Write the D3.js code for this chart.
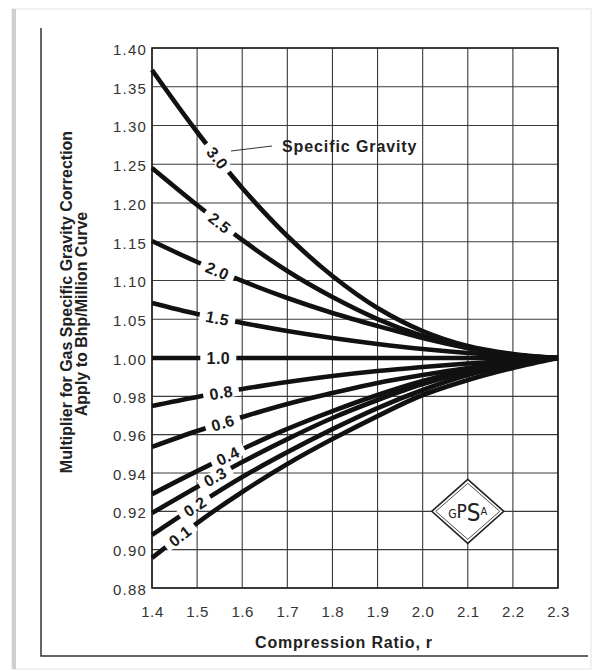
<!DOCTYPE html>
<html><head><meta charset="utf-8">
<script src="https://cdn.jsdelivr.net/npm/d3@7"></script>
<style>
body{margin:0;background:#fff}
svg{display:block;font-family:"Liberation Sans",Arial,Helvetica,sans-serif}
</style>
</head><body>
<svg id="c" width="594" height="671"></svg>
<script>
// ---- data ----
const ratios = [1.4, 1.5, 1.6, 1.7, 1.8, 1.9, 2.0, 2.1, 2.2, 2.3];
const xTickLabels = ["1.4","1.5","1.6","1.7","1.8","1.9","2.0","2.1","2.2","2.3"];
const yTicks = [0.88, 0.90, 0.92, 0.94, 0.96, 0.98, 1.00, 1.05, 1.10, 1.15, 1.20, 1.25, 1.30, 1.35, 1.40];
const sgNames = ["3.0","2.5","2.0","1.5","1.0","0.8","0.6","0.4","0.3","0.2","0.1"];
const sg30 = [1.3716, 1.2916, 1.2194, 1.1574, 1.1058, 1.0645, 1.0348, 1.0155, 1.0052, 1.0000];
const sg25 = [1.2452, 1.1974, 1.1523, 1.1123, 1.0787, 1.0503, 1.0284, 1.0129, 1.0039, 1.0000];
const sg20 = [1.1510, 1.1239, 1.0994, 1.0774, 1.0581, 1.0413, 1.0258, 1.0129, 1.0039, 1.0000];
const sg15 = [1.0710, 1.0568, 1.0452, 1.0348, 1.0258, 1.0181, 1.0116, 1.0065, 1.0026, 1.0000];
const sg10 = [1.0000, 1.0000, 1.0000, 1.0000, 1.0000, 1.0000, 1.0000, 1.0000, 1.0000, 1.0000];
const sg08 = [0.9750, 0.9797, 0.9838, 0.9875, 0.9906, 0.9932, 0.9953, 0.9971, 0.9987, 1.0000];
const sg06 = [0.9536, 0.9619, 0.9692, 0.9760, 0.9817, 0.9870, 0.9911, 0.9948, 0.9979, 1.0000];
const sg04 = [0.9290, 0.9410, 0.9525, 0.9630, 0.9723, 0.9807, 0.9880, 0.9937, 0.9979, 1.0000];
const sg03 = [0.9191, 0.9327, 0.9457, 0.9577, 0.9687, 0.9781, 0.9864, 0.9927, 0.9969, 1.0000];
const sg02 = [0.9077, 0.9233, 0.9379, 0.9509, 0.9629, 0.9739, 0.9833, 0.9911, 0.9963, 1.0000];
const sg01 = [0.8957, 0.9139, 0.9301, 0.9447, 0.9577, 0.9697, 0.9807, 0.9885, 0.9948, 1.0000];
const labelAt = [1.545, 1.550, 1.545, 1.545, 1.547, 1.553, 1.557, 1.568, 1.540, 1.495, 1.462];
const seriesValues = [sg30, sg25, sg20, sg15, sg10, sg08, sg06, sg04, sg03, sg02, sg01];

// ---- drawing ----
const svg = d3.select("#c");
const x = d3.scaleLinear().domain([1.4, 2.3]).range([152, 558]);
const y = d3.scaleLinear().domain([0.88, 1.00, 1.40]).range([588, 358, 48]);

// scanned page frame
svg.append("rect").attr("x", 12).attr("y", 9).attr("width", 579).attr("height", 660)
  .attr("fill", "#fff").attr("stroke", "#e2e2e2").attr("stroke-width", 1);
svg.append("rect").attr("x", 12).attr("y", 9).attr("width", 4).attr("height", 660)
  .attr("fill", "#cfcfcf");
// inner frame (left + bottom)
svg.append("path").attr("d", "M41,28V656H588").attr("fill", "none")
  .attr("stroke", "#333").attr("stroke-width", 1.5);

// grid
const g = svg.append("g");
g.selectAll("line.v").data(ratios).join("line")
  .attr("x1", d => x(d)).attr("x2", d => x(d))
  .attr("y1", y(1.40)).attr("y2", y(0.88))
  .attr("stroke", "#3a3a3a").attr("stroke-width", 1.1);
g.selectAll("line.h").data(yTicks).join("line")
  .attr("y1", d => y(d)).attr("y2", d => y(d))
  .attr("x1", x(1.4)).attr("x2", x(2.3))
  .attr("stroke", "#3a3a3a").attr("stroke-width", 1.1);
g.append("rect").attr("x", x(1.4)).attr("y", y(1.40))
  .attr("width", x(2.3) - x(1.4)).attr("height", y(0.88) - y(1.40))
  .attr("fill", "none").attr("stroke", "#222").attr("stroke-width", 1.6);

// axes
const ya = svg.append("g").attr("transform", `translate(${x(1.4)},1.5)`)
  .call(d3.axisLeft(y).tickValues(yTicks).tickFormat(d3.format(".2f")).tickSize(0).tickPadding(5));
ya.select(".domain").remove();
ya.selectAll("text").attr("font-size", 15).attr("fill", "#333")
  .attr("letter-spacing", "1.2px").attr("font-family", "Liberation Sans, Arial, sans-serif");

const xa = svg.append("g").attr("transform", `translate(0,${y(0.88)})`)
  .call(d3.axisBottom(x).tickValues(ratios).tickFormat((d, i) => xTickLabels[i]).tickSize(0).tickPadding(18));
xa.select(".domain").remove();
xa.selectAll("text").attr("font-size", 15).attr("fill", "#333")
  .attr("letter-spacing", "0.6px").attr("font-family", "Liberation Sans, Arial, sans-serif");

// curves
const line = d3.line().x((d, i) => x(ratios[i])).y(d => y(d)).curve(d3.curveCatmullRom.alpha(0.5));
const curves = svg.append("g");
const paths = seriesValues.map(vals =>
  curves.append("path").attr("d", line(vals)).attr("fill", "none")
    .attr("stroke", "#111").attr("stroke-width", 4.6).attr("stroke-linecap", "butt").node());

// curve labels
function pointAtX(path, tx) {
  const L = path.getTotalLength();
  let lo = 0, hi = L;
  for (let k = 0; k < 40; k++) {
    const mid = (lo + hi) / 2;
    if (path.getPointAtLength(mid).x < tx) lo = mid; else hi = mid;
  }
  const p = path.getPointAtLength(lo);
  const a = path.getPointAtLength(Math.max(0, lo - 4));
  const b = path.getPointAtLength(Math.min(L, lo + 4));
  return {x: p.x, y: p.y, ang: Math.atan2(b.y - a.y, b.x - a.x) * 180 / Math.PI};
}
const labs = svg.append("g");
sgNames.forEach((name, i) => {
  const p = pointAtX(paths[i], x(labelAt[i]));
  const lg = labs.append("g").attr("transform", `translate(${p.x},${p.y}) rotate(${p.ang})`);
  lg.append("rect").attr("x", -18).attr("y", -6).attr("width", 36).attr("height", 12).attr("fill", "#fff");
  lg.append("text").attr("text-anchor", "middle").attr("dy", "0.36em")
    .attr("font-size", 16).attr("font-weight", "bold").attr("fill", "#1a1a1a")
    .attr("letter-spacing", "0.4px").text(name);
});

// "Specific Gravity" annotation
svg.append("line").attr("x1", 231).attr("y1", 151).attr("x2", 272).attr("y2", 146)
  .attr("stroke", "#333").attr("stroke-width", 1);
svg.append("text").attr("x", 282).attr("y", 152).attr("font-size", 16).attr("font-weight", "bold")
  .attr("letter-spacing", "0.9px").attr("fill", "#222").text("Specific Gravity");

// axis titles
svg.append("text").attr("transform", "translate(72,302) rotate(-90)").attr("text-anchor", "middle")
  .attr("font-size", 16).attr("font-weight", "bold").attr("fill", "#222")
  .text("Multiplier for Gas Specific Gravity Correction");
svg.append("text").attr("transform", "translate(87,314) rotate(-90)").attr("text-anchor", "middle")
  .attr("font-size", 16).attr("font-weight", "bold").attr("fill", "#222")
  .text("Apply to Bhp/Million Curve");
svg.append("text").attr("x", 344).attr("y", 648).attr("text-anchor", "middle")
  .attr("font-size", 16).attr("font-weight", "bold").attr("fill", "#222")
  .attr("letter-spacing", "0.8px").text("Compression Ratio, r");

// GPSA logo
const cx = x(2.1), cy = y(0.92);
const logo = svg.append("g").attr("transform", `translate(${cx},${cy})`);
logo.append("polygon").attr("points", "0,-32 36,0 0,32 -36,0")
  .attr("fill", "#fff").attr("stroke", "#222").attr("stroke-width", 1.6);
logo.append("polygon").attr("points", "0,-28 32,0 0,28 -32,0")
  .attr("fill", "none").attr("stroke", "#222").attr("stroke-width", 0.8);
const lt = logo.append("text").attr("text-anchor", "middle").attr("font-family", "DejaVu Sans Condensed, sans-serif")
  .attr("fill", "#222").attr("y", 7);
lt.append("tspan").attr("font-size", 12).attr("dy", 0).text("G");
lt.append("tspan").attr("font-size", 19).attr("dy", 0).text("P");
lt.append("tspan").attr("font-size", 24).attr("dy", 3).text("S");
lt.append("tspan").attr("font-size", 11).attr("dy", -6).text("A");
</script>
</body></html>
